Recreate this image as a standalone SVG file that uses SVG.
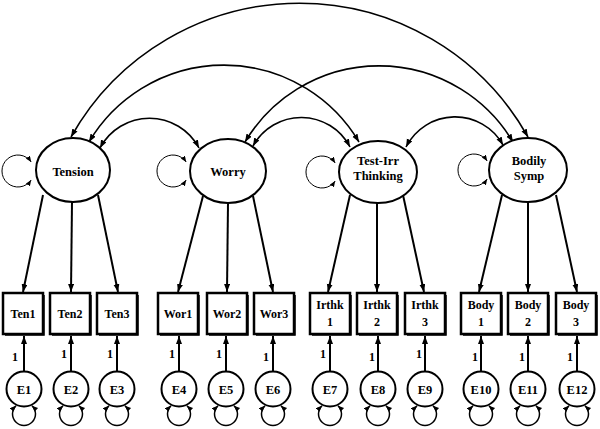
<svg xmlns="http://www.w3.org/2000/svg" width="600" height="429" viewBox="0 0 600 429">
<style>
text{font-family:"Liberation Serif","Times New Roman",serif;font-weight:bold;fill:#000;text-anchor:middle}
.lt{font-size:12.5px}
.bx{font-size:12px}
.er{font-size:12.5px}
.one{font-size:12px}
.lat{fill:#fff;stroke:#000;stroke-width:2}
.box{fill:#fff;stroke:#000;stroke-width:2.5}
.sh{fill:none;stroke:#000;stroke-width:1.5}
.err{fill:#fff;stroke:#000;stroke-width:2}
.cov{fill:none;stroke:#000;stroke-width:1.6;marker-start:url(#a);marker-end:url(#a)}
.ld{fill:none;stroke:#000;stroke-width:2;marker-end:url(#a)}
.loop{fill:none;stroke:#000;stroke-width:1;marker-start:url(#s);marker-end:url(#s)}
.eloop{fill:none;stroke:#000;stroke-width:1.5;marker-start:url(#s);marker-end:url(#s)}
</style>
<defs>
<marker id="a" markerUnits="userSpaceOnUse" markerWidth="9" markerHeight="7" refX="8" refY="3" orient="auto-start-reverse"><path d="M0,0 L8,3 L0,6 z" fill="#000"/></marker>
<marker id="s" markerUnits="userSpaceOnUse" markerWidth="7" markerHeight="6" refX="6" refY="2.5" orient="auto-start-reverse"><path d="M0,0 L6,2.5 L0,5 z" fill="#000"/></marker>
</defs>
<rect width="600" height="429" fill="#fff"/>
<g id="connectors">
<path class="cov" d="M71,137 A262,262 0 0 1 528,137"/>
<path class="cov" d="M89,142 A157,157 0 0 1 359,142"/>
<path class="cov" d="M245,142 A156,156 0 0 1 513,142"/>
<path class="cov" d="M100,148 A56,56 0 0 1 199,148"/>
<path class="cov" d="M253,146 A55,55 0 0 1 350,147"/>
<path class="cov" d="M406,147 A55,55 0 0 1 503,145"/>
<path class="loop" d="M31.2,162 A16,16 0 1 0 31.2,180"/>
<path class="loop" d="M186.2,162 A16,16 0 1 0 186.2,180"/>
<path class="loop" d="M335.2,163 A16,16 0 1 0 335.2,181"/>
<path class="loop" d="M487.2,161 A16,16 0 1 0 487.2,179"/>
<line class="ld" x1="43" y1="195" x2="23" y2="292"/>
<line class="ld" x1="72" y1="202" x2="71" y2="292"/>
<line class="ld" x1="98" y1="195" x2="118" y2="292"/>
<line class="ld" x1="203" y1="196" x2="178" y2="292"/>
<line class="ld" x1="228" y1="203" x2="227" y2="292"/>
<line class="ld" x1="253" y1="196" x2="273" y2="292"/>
<line class="ld" x1="350" y1="195" x2="328" y2="292"/>
<line class="ld" x1="377" y1="203" x2="377" y2="292"/>
<line class="ld" x1="403" y1="195" x2="424" y2="292"/>
<line class="ld" x1="502" y1="195" x2="479" y2="292"/>
<line class="ld" x1="528" y1="202" x2="528" y2="292"/>
<line class="ld" x1="556" y1="195" x2="577" y2="292"/>
<line class="ld" x1="24" y1="371" x2="24" y2="336"/>
<line class="ld" x1="71" y1="371" x2="71" y2="336"/>
<line class="ld" x1="117" y1="371" x2="117" y2="336"/>
<line class="ld" x1="179" y1="371" x2="179" y2="336"/>
<line class="ld" x1="226" y1="371" x2="226" y2="336"/>
<line class="ld" x1="273" y1="371" x2="273" y2="336"/>
<line class="ld" x1="330" y1="371" x2="330" y2="336"/>
<line class="ld" x1="378" y1="371" x2="378" y2="336"/>
<line class="ld" x1="425" y1="371" x2="425" y2="336"/>
<line class="ld" x1="481" y1="371" x2="481" y2="336"/>
<line class="ld" x1="528" y1="371" x2="528" y2="336"/>
<line class="ld" x1="577" y1="371" x2="577" y2="336"/>
<text class="one" x="15" y="361">1</text>
<text class="one" x="64" y="358">1</text>
<text class="one" x="110" y="358">1</text>
<text class="one" x="172" y="358">1</text>
<text class="one" x="219" y="358">1</text>
<text class="one" x="266" y="361">1</text>
<text class="one" x="323" y="358">1</text>
<text class="one" x="372" y="361">1</text>
<text class="one" x="419" y="358">1</text>
<text class="one" x="475" y="361">1</text>
<text class="one" x="522" y="361">1</text>
<text class="one" x="570" y="361">1</text>
<path class="eloop" d="M16,405.7 A11.5,11.5 0 1 0 32,405.7"/>
<path class="eloop" d="M63,405.7 A11.5,11.5 0 1 0 79,405.7"/>
<path class="eloop" d="M109,405.7 A11.5,11.5 0 1 0 125,405.7"/>
<path class="eloop" d="M171,405.7 A11.5,11.5 0 1 0 187,405.7"/>
<path class="eloop" d="M218,405.7 A11.5,11.5 0 1 0 234,405.7"/>
<path class="eloop" d="M265,405.7 A11.5,11.5 0 1 0 281,405.7"/>
<path class="eloop" d="M322,405.7 A11.5,11.5 0 1 0 338,405.7"/>
<path class="eloop" d="M370,405.7 A11.5,11.5 0 1 0 386,405.7"/>
<path class="eloop" d="M417,405.7 A11.5,11.5 0 1 0 433,405.7"/>
<path class="eloop" d="M473,405.7 A11.5,11.5 0 1 0 489,405.7"/>
<path class="eloop" d="M520,405.7 A11.5,11.5 0 1 0 536,405.7"/>
<path class="eloop" d="M569,405.7 A11.5,11.5 0 1 0 585,405.7"/>
</g>
<g id="tension"><ellipse class="lat" cx="73" cy="170" rx="37" ry="32"/><text class="lt" x="73" y="176">Tension</text></g>
<g id="worry"><ellipse class="lat" cx="228" cy="171" rx="38" ry="32"/><text class="lt" x="228" y="176">Worry</text></g>
<g id="testirr"><ellipse class="lat" cx="378" cy="172" rx="39" ry="31"/><text class="lt" x="378" y="165">Test-Irr</text><text class="lt" x="378" y="180">Thinking</text></g>
<g id="bodily"><ellipse class="lat" cx="528" cy="170" rx="39" ry="32"/><text class="lt" x="529" y="165">Bodily</text><text class="lt" x="529" y="180">Symp</text></g>
<g id="ten1"><path class="sh" d="M44,295 V335 H5"/><rect class="box" x="3" y="293" width="40" height="41"/><text class="bx" x="23" y="318">Ten1</text></g>
<g id="ten2"><path class="sh" d="M91,295 V335 H52"/><rect class="box" x="50" y="293" width="40" height="41"/><text class="bx" x="70" y="318">Ten2</text></g>
<g id="ten3"><path class="sh" d="M138,295 V335 H99"/><rect class="box" x="97" y="293" width="40" height="41"/><text class="bx" x="117" y="318">Ten3</text></g>
<g id="wor1"><path class="sh" d="M199,295 V335 H160"/><rect class="box" x="158" y="293" width="40" height="41"/><text class="bx" x="178" y="318">Wor1</text></g>
<g id="wor2"><path class="sh" d="M248,295 V335 H209"/><rect class="box" x="207" y="293" width="40" height="41"/><text class="bx" x="227" y="318">Wor2</text></g>
<g id="wor3"><path class="sh" d="M295,295 V335 H256"/><rect class="box" x="254" y="293" width="40" height="41"/><text class="bx" x="274" y="318">Wor3</text></g>
<g id="irthk1"><path class="sh" d="M351,295 V335 H312"/><rect class="box" x="310" y="293" width="40" height="41"/><text class="bx" x="330" y="309">Irthk</text><text class="bx" x="330" y="326">1</text></g>
<g id="irthk2"><path class="sh" d="M398,295 V335 H359"/><rect class="box" x="357" y="293" width="40" height="41"/><text class="bx" x="377" y="309">Irthk</text><text class="bx" x="377" y="326">2</text></g>
<g id="irthk3"><path class="sh" d="M446,295 V335 H407"/><rect class="box" x="405" y="293" width="40" height="41"/><text class="bx" x="425" y="309">Irthk</text><text class="bx" x="425" y="326">3</text></g>
<g id="body1"><path class="sh" d="M502,295 V335 H463"/><rect class="box" x="461" y="293" width="40" height="41"/><text class="bx" x="481" y="309">Body</text><text class="bx" x="481" y="326">1</text></g>
<g id="body2"><path class="sh" d="M549,295 V335 H510"/><rect class="box" x="508" y="293" width="40" height="41"/><text class="bx" x="528" y="309">Body</text><text class="bx" x="528" y="326">2</text></g>
<g id="body3"><path class="sh" d="M597,295 V335 H558"/><rect class="box" x="556" y="293" width="40" height="41"/><text class="bx" x="576" y="309">Body</text><text class="bx" x="576" y="326">3</text></g>
<g id="e1"><circle class="err" cx="24" cy="389" r="17.5"/><text class="er" x="24" y="393.5">E1</text></g>
<g id="e2"><circle class="err" cx="71" cy="389" r="17.5"/><text class="er" x="71" y="393.5">E2</text></g>
<g id="e3"><circle class="err" cx="117" cy="389" r="17.5"/><text class="er" x="117" y="393.5">E3</text></g>
<g id="e4"><circle class="err" cx="179" cy="389" r="17.5"/><text class="er" x="179" y="393.5">E4</text></g>
<g id="e5"><circle class="err" cx="226" cy="389" r="17.5"/><text class="er" x="226" y="393.5">E5</text></g>
<g id="e6"><circle class="err" cx="273" cy="389" r="17.5"/><text class="er" x="273" y="393.5">E6</text></g>
<g id="e7"><circle class="err" cx="330" cy="389" r="17.5"/><text class="er" x="330" y="393.5">E7</text></g>
<g id="e8"><circle class="err" cx="378" cy="389" r="17.5"/><text class="er" x="378" y="393.5">E8</text></g>
<g id="e9"><circle class="err" cx="425" cy="389" r="17.5"/><text class="er" x="425" y="393.5">E9</text></g>
<g id="e10"><circle class="err" cx="481" cy="389" r="17.5"/><text class="er" x="481" y="393.5">E10</text></g>
<g id="e11"><circle class="err" cx="528" cy="389" r="17.5"/><text class="er" x="528" y="393.5">E11</text></g>
<g id="e12"><circle class="err" cx="577" cy="389" r="17.5"/><text class="er" x="577" y="393.5">E12</text></g>
</svg>
